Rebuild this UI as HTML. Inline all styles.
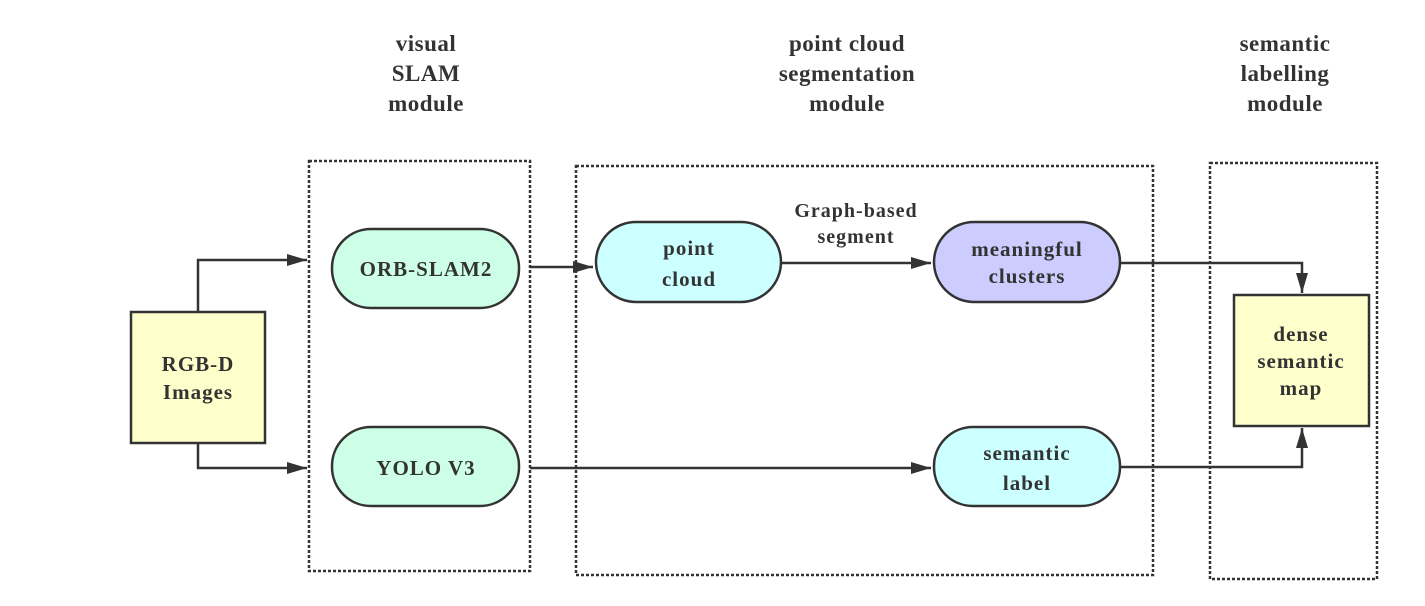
<!DOCTYPE html>
<html><head><meta charset="utf-8"><style>
html,body{margin:0;padding:0;background:#fff;width:1425px;height:606px;overflow:hidden}
text{font-family:"Liberation Serif",serif;font-weight:bold;fill:#333;text-anchor:middle}
</style></head><body>
<svg width="1425" height="606" viewBox="0 0 1425 606" xmlns="http://www.w3.org/2000/svg">
<defs>
<marker id="b" viewBox="0 0 20 12" markerWidth="20" markerHeight="12" refX="20" refY="6" orient="auto" markerUnits="userSpaceOnUse"><path d="M0,0 L20,6 L0,12z" fill="#333"/></marker></defs>
<g font-size="23" letter-spacing="0.5">
<text x="426" y="51">visual</text><text x="426" y="81">SLAM</text><text x="426" y="111">module</text>
<text x="847" y="51">point cloud</text><text x="847" y="81">segmentation</text><text x="847" y="111">module</text>
<text x="1285" y="51">semantic</text><text x="1285" y="81">labelling</text><text x="1285" y="111">module</text>
</g>
<g fill="none" stroke="#333" stroke-width="2.5" stroke-dasharray="3,2">
<rect x="309" y="161" width="221" height="410"/>
<rect x="576" y="166" width="577" height="409"/>
<rect x="1210" y="163" width="167" height="416"/>
</g>
<g stroke="#333" stroke-width="2.5">
<rect x="131" y="312" width="134" height="131" fill="#ffffcc"/>
<rect x="1234" y="295" width="135" height="131" fill="#ffffcc"/>
<rect x="332" y="229" width="187" height="79" rx="39" fill="#ccffe6"/>
<rect x="332" y="427" width="187" height="79" rx="39" fill="#ccffe6"/>
<rect x="596" y="222" width="185" height="80" rx="40" fill="#ccffff"/>
<rect x="934" y="222" width="186" height="80" rx="40" fill="#ccccff"/>
<rect x="934" y="427" width="186" height="79" rx="39" fill="#ccffff"/>
</g>
<g fill="none" stroke="#333" stroke-width="2.5" marker-end="url(#b)">
<polyline points="198,312 198,260 307,260"/>
<polyline points="198,443 198,468 307,468"/>
<polyline points="530,267 593,267"/>
<polyline points="781,263 931,263"/>
<polyline points="530,468 931,468"/>
<polyline points="1120,263 1302,263 1302,293"/>
<polyline points="1120,467 1302,467 1302,428"/>
</g>
<g font-size="21" letter-spacing="1">
<text x="198" y="371">RGB-D</text><text x="198" y="399">Images</text>
<text x="426" y="276">ORB-SLAM2</text>
<text x="426" y="475">YOLO V3</text>
<text x="689" y="255">point</text><text x="689" y="286">cloud</text>
<text x="1027" y="256">meaningful</text><text x="1027" y="283">clusters</text>
<text x="1027" y="460">semantic</text><text x="1027" y="490">label</text>
<text x="1301" y="341">dense</text><text x="1301" y="368">semantic</text><text x="1301" y="395">map</text>
<text x="856" y="217" font-size="20">Graph-based</text><text x="856" y="243" font-size="20">segment</text>
</g>
</svg>
</body></html>
